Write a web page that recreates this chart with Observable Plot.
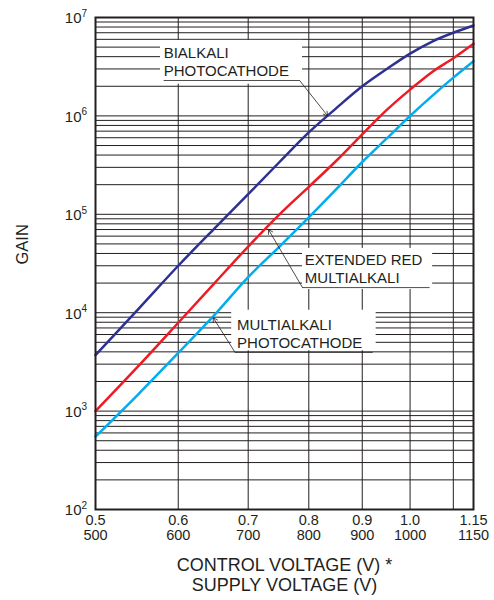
<!DOCTYPE html>
<html>
<head>
<meta charset="utf-8">
<script src="https://cdn.jsdelivr.net/npm/d3@7"></script>
<script src="https://cdn.jsdelivr.net/npm/@observablehq/plot@0.6"></script>
<style>
  html, body { margin: 0; padding: 0; background: #fff; }
</style>
</head>
<body>
<div id="chart"></div>
<script>
// Control voltage (V) sample points
const controlVoltage = [0.5, 0.55, 0.6, 0.65, 0.7, 0.75, 0.8, 0.85, 0.9, 0.95, 1.0, 1.05, 1.1, 1.15];
// Gain values
const bialkaliGain    = [3.7e3, 1.1e4, 3.0e4, 7.2e4, 1.6e5, 3.4e5, 6.8e5, 1.2e6, 2.0e6, 3.0e6, 4.3e6, 5.7e6, 7.0e6, 8.3e6];
const extRedGain      = [1.0e3, 2.9e3, 7.9e3, 2.0e4, 4.7e4, 1.0e5, 1.9e5, 3.5e5, 6.5e5, 1.15e6, 1.85e6, 2.8e6, 3.85e6, 5.4e6];
const multialkaliGain = [5.5e2, 1.5e3, 3.9e3, 9.5e3, 2.3e4, 4.7e4, 9.3e4, 1.8e5, 3.4e5, 5.9e5, 1.0e6, 1.6e6, 2.45e6, 3.6e6];

// Tick labels
const controlTicks = [0.5, 0.6, 0.7, 0.8, 0.9, 1.0, 1.15];
const controlLabels = ["0.5", "0.6", "0.7", "0.8", "0.9", "1.0", "1.15"];
const supplyLabels = ["500", "600", "700", "800", "900", "1000", "1150"];
const gainTicks = [1e2, 1e3, 1e4, 1e5, 1e6, 1e7];
const gainExponents = ["2", "3", "4", "5", "6", "7"];
const xGrid = [0.6, 0.7, 0.8, 0.9, 1.0, 1.1];

const seriesNames = ["BIALKALI", "EXTENDED RED", "MULTIALKALI"];
const seriesColors = ["#2e3192", "#ed1c24", "#00aeef"];

const rows = [];
[bialkaliGain, extRedGain, multialkaliGain].forEach((arr, s) => {
  arr.forEach((g, i) => rows.push({series: seriesNames[s], v: controlVoltage[i], gain: g}));
});

// Log grid lines (1..9 × 10^k)
const yGrid = [];
for (let e = 2; e < 7; e++) for (let m = 1; m <= 9; m++) yGrid.push(m * 10 ** e);
yGrid.push(1e7);

// Annotation boxes and leaders (data coordinates)
const boxes = [
  {x1: 0.577, x2: 0.789, y1: 2.1e6, y2: 5.85e6},
  {x1: 0.789, x2: 1.051, y1: 1.72e4, y2: 4.5e4},
  {x1: 0.675, x2: 0.928, y1: 4.1e3, y2: 1.06e4}
];
const labels = [
  {x: 0.581, y: 3.57e6, text: "BIALKALI\nPHOTOCATHODE"},
  {x: 0.793, y: 2.85e4, text: "EXTENDED RED\nMULTIALKALI"},
  {x: 0.683, y: 6.2e3, text: "MULTIALKALI\nPHOTOCATHODE"}
];
const underlines = [
  {x1: 0.581, x2: 0.784, y: 2.29e6},
  {x1: 0.789, x2: 1.044, y: 1.8e4},
  {x1: 0.680, x2: 0.921, y: 3.95e3}
];
const arrows = [
  {x1: 0.784, y1: 2.29e6, x2: 0.834, y2: 1.0e6},
  {x1: 0.789, y1: 1.8e4, x2: 0.732, y2: 7.0e4},
  {x1: 0.680, y1: 3.95e3, x2: 0.648, y2: 8.9e3}
];

const ink = "#231f20";

const chart = Plot.plot({
  width: 494,
  height: 600,
  marginLeft: 95,
  marginRight: 21,
  marginTop: 17,
  marginBottom: 91,
  style: {fontFamily: "'Liberation Sans', Arial, Helvetica, sans-serif", fontSize: "15px", color: ink, background: "white"},
  x: {type: "log", domain: [0.5, 1.15]},
  y: {type: "log", domain: [1e2, 1e7]},
  color: {domain: seriesNames, range: seriesColors},
  marks: [
    Plot.ruleY(yGrid, {stroke: ink, strokeWidth: 1}),
    Plot.ruleX(xGrid, {stroke: ink, strokeWidth: 1}),
    Plot.rect(boxes, {x1: "x1", x2: "x2", y1: "y1", y2: "y2", fill: "white"}),
    Plot.line(rows, {x: "v", y: "gain", z: "series", stroke: "series", strokeWidth: 2.5, curve: "catmull-rom"}),
    Plot.link(underlines, {x1: "x1", x2: "x2", y1: "y", y2: "y", stroke: ink, strokeWidth: 0.8}),
    Plot.arrow(arrows, {x1: "x1", y1: "y1", x2: "x2", y2: "y2", stroke: ink, strokeWidth: 0.8, headLength: 9, bend: 0}),
    Plot.text(labels, {x: "x", y: "y", text: "text", textAnchor: "start", fill: ink, fontSize: 15, lineHeight: 1.2}),
    Plot.frame({stroke: ink, strokeWidth: 2}),
    Plot.axisX({
      ticks: controlTicks,
      tickFormat: d => { const i = controlTicks.indexOf(d); return controlLabels[i] + "\n" + supplyLabels[i]; },
      tickSize: 0, tickPadding: 4, label: null, lineHeight: 1.08, fontSize: 14.5, fill: ink
    }),
    Plot.axisY({
      ticks: gainTicks,
      tickFormat: () => "10",
      tickSize: 0, tickPadding: 14, label: null, fontSize: 15, fill: ink, dy: 1
    }),
    Plot.text(gainTicks, {y: d => d, text: (d, i) => gainExponents[i], frameAnchor: "left", textAnchor: "start", dx: -14, dy: -4, fontSize: 10, fill: ink}),
    Plot.text(["CONTROL VOLTAGE (V) *\nSUPPLY VOLTAGE (V)"], {text: d => d, frameAnchor: "bottom", lineAnchor: "top", dy: 48, fontSize: 18, lineHeight: 1.08, fill: ink}),
    Plot.text(["GAIN"], {text: d => d, frameAnchor: "left", rotate: -90, dx: -73, dy: 1, fontSize: 16.5, fill: ink})
  ]
});

document.getElementById("chart").appendChild(chart);
</script>
</body>
</html>
